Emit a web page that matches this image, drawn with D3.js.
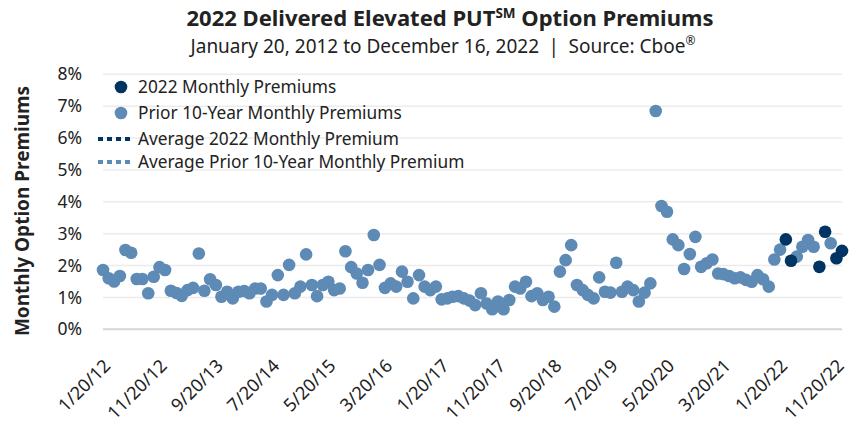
<!DOCTYPE html>
<html>
<head>
<meta charset="utf-8">
<script src="https://cdn.jsdelivr.net/npm/d3@7"></script>
<style>
  body { margin: 0; background: #fff; }
  svg { display: block; font-family: "Noto Sans", "Open Sans", sans-serif; }
</style>
</head>
<body>
<script>
// monthly premiums (%), Jan 2012 .. Dec 2021
const priorPremiums = [
  1.86, 1.60, 1.50, 1.67, 2.49, 2.40, 1.58, 1.58, 1.13, 1.65, 1.95, 1.86,
  1.21, 1.14, 1.05, 1.23, 1.30, 2.38, 1.21, 1.57, 1.39, 1.02, 1.18, 0.97,
  1.18, 1.20, 1.13, 1.28, 1.28, 0.87, 1.08, 1.70, 1.08, 2.02, 1.13, 1.34,
  2.35, 1.39, 1.04, 1.39, 1.49, 1.23, 1.28, 2.45, 1.95, 1.75, 1.46, 1.86,
  2.96, 2.02, 1.30, 1.44, 1.34, 1.81, 1.49, 0.97, 1.70, 1.34, 1.23, 1.34,
  0.94, 0.97, 1.02, 1.04, 0.97, 0.90, 0.76, 1.13, 0.81, 0.63, 0.87, 0.63,
  0.92, 1.34, 1.28, 1.49, 1.04, 1.13, 0.92, 1.02, 0.71, 1.81, 2.17, 2.64,
  1.39, 1.23, 1.08, 0.97, 1.63, 1.18, 1.15, 2.09, 1.18, 1.34, 1.23, 0.87,
  1.15, 1.44, 6.85, 3.87, 3.69, 2.82, 2.64, 1.89, 2.36, 2.90, 1.96, 2.07,
  2.19, 1.75, 1.73, 1.67, 1.60, 1.63, 1.55, 1.49, 1.70, 1.57, 1.34, 2.19
];
// Jan 2022 .. Dec 2022
const premiums2022 = [2.50, 2.82, 2.15, 2.28, 2.59, 2.80, 2.59, 1.96, 3.06, 2.70, 2.23, 2.46];
// which 2022 months show in the dark "2022" colour
const dark2022 = [0, 1, 1, 0, 0, 0, 0, 1, 1, 0, 1, 1];

const yTicks = [0, 1, 2, 3, 4, 5, 6, 7, 8];
const xTickLabels = ["1/20/12", "11/20/12", "9/20/13", "7/20/14", "5/20/15", "3/20/16", "1/20/17",
  "11/20/17", "9/20/18", "7/20/19", "5/20/20", "3/20/21", "1/20/22", "11/20/22"];

const legendItems = [
  { label: "2022 Monthly Premiums", type: "dot", color: "#003462" },
  { label: "Prior 10-Year Monthly Premiums", type: "dot", color: "#5e8ab6" },
  { label: "Average 2022 Monthly Premium", type: "line", color: "#003462" },
  { label: "Average Prior 10-Year Monthly Premium", type: "line", color: "#5e8ab6" }
];

const width = 859, height = 425;
const parse = d3.timeParse("%m/%d/%y");
const fmt = d3.timeFormat("%-m/%-d/%y");

const months = d3.timeMonth.range(new Date(2012, 0, 1), new Date(2023, 0, 1)).map(d => new Date(d.getFullYear(), d.getMonth(), 20));

const points = months.map((d, i) => {
  if (i < 120) return { date: d, value: priorPremiums[i], dark: false };
  return { date: d, value: premiums2022[i - 120], dark: dark2022[i - 120] === 1 };
});

const svg = d3.select("body").append("svg")
  .attr("width", width)
  .attr("height", height);

const x = d3.scaleTime()
  .domain([months[0], months[months.length - 1]])
  .range([103, 842]);

const y = d3.scaleLinear()
  .domain([0, 8])
  .range([329.3, 74.3]);

// gridlines
svg.append("g")
  .selectAll("line")
  .data(yTicks)
  .join("line")
    .attr("x1", 103).attr("x2", 842)
    .attr("y1", d => y(d)).attr("y2", d => y(d))
    .attr("stroke", d => d === 0 ? "#d6d6d6" : "#ececec")
    .attr("stroke-width", d => d === 0 ? 2 : 1.6);

// y axis
const yAxis = svg.append("g")
  .attr("transform", "translate(103,0)")
  .call(d3.axisLeft(y).tickValues(yTicks).tickFormat(d => d + "%").tickSize(0).tickPadding(21));
yAxis.select(".domain").remove();
yAxis.selectAll("text")
  .attr("font-size", 17.5)
  .attr("font-family", "Noto Sans")
  .attr("fill", "#222");

// x axis
const xAxis = svg.append("g")
  .attr("transform", "translate(0,329)")
  .call(d3.axisBottom(x).tickValues(xTickLabels.map(parse)).tickFormat(fmt).tickSize(0));
xAxis.select(".domain").remove();
xAxis.selectAll("text")
  .attr("font-size", 18)
  .attr("font-family", "Noto Sans")
  .attr("fill", "#222")
  .attr("text-anchor", "end")
  .attr("dy", 0)
  .attr("y", 0)
  .attr("transform", "translate(8,38) rotate(-45)");

// points
svg.append("g")
  .selectAll("circle")
  .data(points.filter(d => !d.dark))
  .join("circle")
    .attr("cx", d => x(d.date))
    .attr("cy", d => y(d.value))
    .attr("r", 6.3)
    .attr("fill", "#5e8ab6");

svg.append("g")
  .selectAll("circle")
  .data(points.filter(d => d.dark))
  .join("circle")
    .attr("cx", d => x(d.date))
    .attr("cy", d => y(d.value))
    .attr("r", 6.3)
    .attr("fill", "#003462");

// legend
const legend = svg.append("g");
const rows = legend.selectAll("g")
  .data(legendItems)
  .join("g")
    .attr("transform", (d, i) => `translate(0,${[87, 113, 139, 162][i]})`);

rows.filter(d => d.type === "dot").append("circle")
  .attr("cx", 121).attr("cy", 0).attr("r", 6.3)
  .attr("fill", d => d.color);
rows.filter(d => d.type === "line").append("line")
  .attr("x1", 98).attr("x2", 133).attr("y1", 0).attr("y2", 0)
  .attr("stroke", d => d.color)
  .attr("stroke-width", 4)
  .attr("stroke-dasharray", "5,4");
rows.append("text")
  .attr("x", 138).attr("y", 6)
  .attr("font-size", 17.3)
  .attr("fill", "#222")
  .text(d => d.label);

// y title
svg.append("text")
  .attr("transform", "translate(29,211) rotate(-90)")
  .attr("text-anchor", "middle")
  .attr("font-size", 19)
  .attr("font-weight", "bold")
  .attr("fill", "#222")
  .text("Monthly Option Premiums");

// title
const title = svg.append("text")
  .attr("x", 450).attr("y", 26)
  .attr("text-anchor", "middle")
  .attr("font-size", 22)
  .attr("font-weight", "bold")
  .attr("fill", "#222");
title.append("tspan").text("2022 Delivered Elevated PUT");
title.append("tspan").attr("font-size", 13.5).attr("dy", -8).text("SM");
title.append("tspan").attr("dy", 8).text(" Option Premiums");

const sub = svg.append("text")
  .attr("x", 443).attr("y", 53)
  .attr("text-anchor", "middle")
  .attr("font-size", 19)
  .attr("fill", "#222");
sub.append("tspan").text("January 20, 2012 to December 16, 2022\u2002|\u2002Source: Cboe");
sub.append("tspan").attr("font-size", 12).attr("dy", -8).text("®");
</script>
</body>
</html>
